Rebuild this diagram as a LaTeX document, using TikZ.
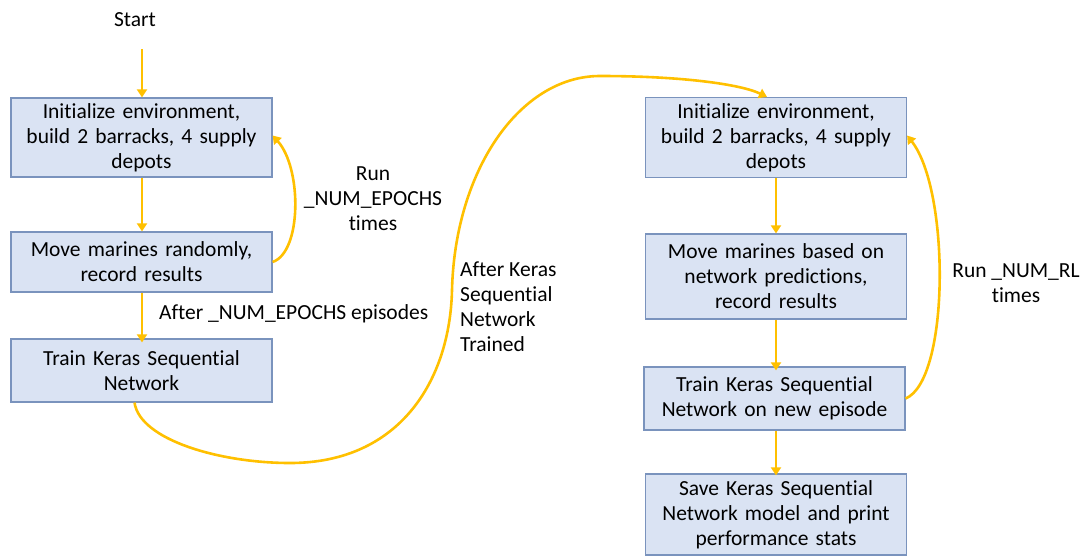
\documentclass[tikz,border=0pt]{standalone}
\usepackage{fontspec}
\setmainfont{Carlito}[Ligatures={NoCommon}]
\usetikzlibrary{arrows.meta}
\definecolor{boxfill}{HTML}{DAE3F3}
\definecolor{boxline}{HTML}{7A93BD}
\definecolor{gold}{HTML}{FFC000}
\tikzset{
  box/.style={draw=boxline, line width=1.2pt, fill=boxfill, minimum width=261pt, align=center, inner sep=0pt, font=\fontsize{21.5}{25}\selectfont, text width=258pt},
  lbl/.style={font=\fontsize{21.5}{25}\selectfont, inner sep=0pt},
  arr/.style={draw=gold, line width=2.6pt, -{Triangle[length=8pt,width=10pt]}}
}
\begin{document}
\begin{tikzpicture}[x=1pt,y=-1pt]
\useasboundingbox (0,0) rectangle (1081,555);
\node[lbl] (start) at (135,20) {Start};
\node[box, minimum height=79pt] (L1) at (141.5,137.5) {Initialize environment,\\ build 2 barracks, 4 supply\\ depots};
\node[box, minimum height=60pt] (L2) at (141.5,262) {Move marines randomly,\\ record results};
\node[box, minimum height=63pt] (L3) at (141.5,370.5) {Train Keras Sequential\\ Network};
\node[box, minimum height=80pt] (R1) at (776,137.5) {Initialize environment,\\ build 2 barracks, 4 supply\\ depots};
\node[box, minimum height=85pt] (R2) at (776,276.5) {Move marines based on\\ network predictions,\\ record results};
\node[box, minimum height=63pt] (R3) at (774.5,398.5) {Train Keras Sequential\\ Network on new episode};
\node[box, minimum height=81pt] (R4) at (776,514.5) {Save Keras Sequential\\ Network model and print\\ performance stats};
\node[lbl, align=center] (runE) at (373,199) {Run\\ \_NUM\_EPOCHS\\ times};
\node[lbl, anchor=west] (afterE) at (159,314) {After \_NUM\_EPOCHS episodes};
\node[lbl, anchor=west, align=left] (afterK) at (460,307) {After Keras\\ Sequential\\ Network\\ Trained};
\node[lbl, align=center] (runR) at (1016,283) {Run \_NUM\_RL\\ times};
\coordinate (s0) at (142,49);
\draw[arr] (s0) -- (L1.north -| s0);
\draw[arr] (L1.south -| s0) -- (L2.north -| s0);
\draw[arr] (L2.south -| s0) -- ([yshift=-4pt]L3.north -| s0);
\draw[arr] (L2.east) .. controls (302,252) and (302,168) .. ([yshift=2pt]L1.east);
\draw[arr] ([xshift=-7pt]L3.south) .. controls (140,440) and (220,463) .. (290,463)
  .. controls (400,463) and (450,380) .. (452,290)
  .. controls (455,170) and (520,76) .. (600,76)
  .. controls (680,76) and (740,84) .. ([xshift=-9pt]R1.north);
\draw[arr] (R1.south) -- (R2.north);
\draw[arr] (R2.south) -- ([yshift=-4pt]R3.north -| R2.south);
\draw[arr] (R3.south -| R2.south) -- ([yshift=-2pt]R4.north);
\draw[arr] (R3.east) .. controls (950,380) and (950,190) .. ([yshift=2pt]R1.east);
\end{tikzpicture}
\end{document}
